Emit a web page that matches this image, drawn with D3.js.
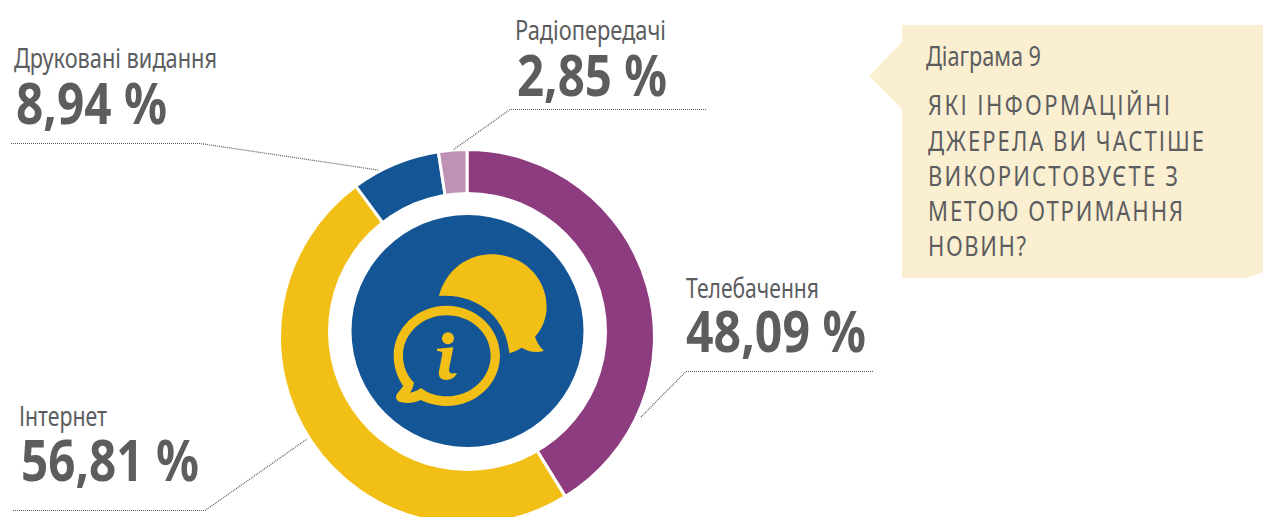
<!DOCTYPE html>
<html><head><meta charset="utf-8">
<script src="https://cdn.jsdelivr.net/npm/d3@7"></script>
<style>html,body{margin:0;background:#fff}svg{display:block}text{font-family:"Noto Sans","DejaVu Sans Condensed",sans-serif;fill:#5c5d5f}</style>
</head><body><div id="c"></div>
<script>
const categories=["Телебачення","Інтернет","Друковані видання","Радіопередачі"];
const values=[48.09,56.81,8.94,2.85];
const colors=["#8d3c80","#f2bf17","#145695","#bf92b5"];
const titleLine="Діаграма 9";
const questionLines=["ЯКІ ІНФОРМАЦІЙНІ","ДЖЕРЕЛА ВИ ЧАСТІШЕ","ВИКОРИСТОВУЄТЕ З","МЕТОЮ ОТРИМАННЯ","НОВИН?"];
const fmt=v=>v.toFixed(2).replace(".",",")+" %";

// layout only
const nameLayout=[[686,298,133],[19,426,88],[14,68,203],[515,40,151]];
const valueLayout=[[686,352,180],[21,481,178],[16,124,151],[517,96,150]];
const leaders=[[[873,371.5],[686,371.5],[641,417]],[[13,510.5],[205,510.5],[307,439]],[[11,143.5],[200,143.5],[378,170]],[[706,109.5],[510,109.5],[453,150]]];
const questionLayout=[[928,115,242],[928,151,276],[928,186,250],[928,221,255],[928,256,98]];

const svg=d3.select("#c").append("svg").attr("width",1263).attr("height",517);
const pie=d3.pie().sort(null).value(d=>d);
const arc=d3.arc().innerRadius(0).outerRadius(187.5);
svg.append("g").attr("transform","translate(467,337)").selectAll("path").data(pie(values)).join("path")
  .attr("d",arc).attr("fill",(d,i)=>colors[i]).attr("stroke","#fff").attr("stroke-width",3);
svg.append("circle").attr("cx",467.5).attr("cy",331.5).attr("r",139.5).attr("fill","#fff");
svg.append("circle").attr("cx",467.5).attr("cy",331).attr("r",116).attr("fill","#145695");

const icon=svg.append("g").attr("transform","translate(340,210) scale(0.3333)").attr("fill","#f2bf17");
icon.append("path").attr("d","M297 258C318 178 385 133 455 133C550 133 620 205 620 290C620 325 606 357 585 380C590 397 600 412 612 422C590 430 565 425 545 413C533 421 521 426 508 430C500 325 415 250 297 258Z");
icon.append("path").attr("fill-rule","evenodd").attr("d","M320 287C408 287 480 354 480 437C480 520 408 588 320 588C292 588 265 581 242 570C220 580 195 582 175 574C165 566 167 555 175 547L190 528C172 502 161 470 161 437C161 354 232 287 320 287ZM320 316C248 316 189 370 189 437C189 467 200 495 222 518C220 530 216 540 210 548C222 547 233 541 243 534C266 551 292 559 320 559C393 559 452 504 452 437C452 370 393 316 320 316Z");
icon.append("circle").attr("cx",324).attr("cy",385).attr("r",18);
icon.append("path").attr("d","M291 416L340 412L327 478C326 488 332 492 342 490L351 490C345 503 333 510 318 510C302 510 294 499 297 484L307 432C308 425 302 424 291 423Z");

svg.append("path").attr("d","M902 25H1263V272Q1250 278 1240 278H902V109L869 76L902 42Z").attr("fill","#fbefd2");

const line=d3.line();
svg.append("g").selectAll("path").data(leaders).join("path").attr("d",line).attr("fill","none")
  .attr("stroke","#58595b").attr("stroke-width",1.2).attr("stroke-dasharray","1 1");

function put(t,x,y,w,size,weight){
  svg.append("text").attr("x",x).attr("y",y).attr("font-size",size).attr("font-weight",weight||400)
    .attr("textLength",w).attr("lengthAdjust","spacingAndGlyphs").text(t);
}
categories.forEach((c,i)=>{
  put(c,nameLayout[i][0],nameLayout[i][1],nameLayout[i][2],27);
  put(fmt(values[i]),valueLayout[i][0],valueLayout[i][1],valueLayout[i][2],58,700);
});
put(titleLine,926,66,115,27);
// narrowed glyphs with tracking, as in the reference's spaced capitals
const sx=0.8;
questionLines.forEach((q,i)=>{
  const [x,y,w]=questionLayout[i];
  const t=svg.append("text").attr("transform",`translate(${x},${y}) scale(${sx},1)`).attr("font-size",27.5).text(q);
  const natural=t.node().getComputedTextLength();
  t.attr("letter-spacing",(w/sx-natural)/(q.length-1));
});
</script></body></html>
